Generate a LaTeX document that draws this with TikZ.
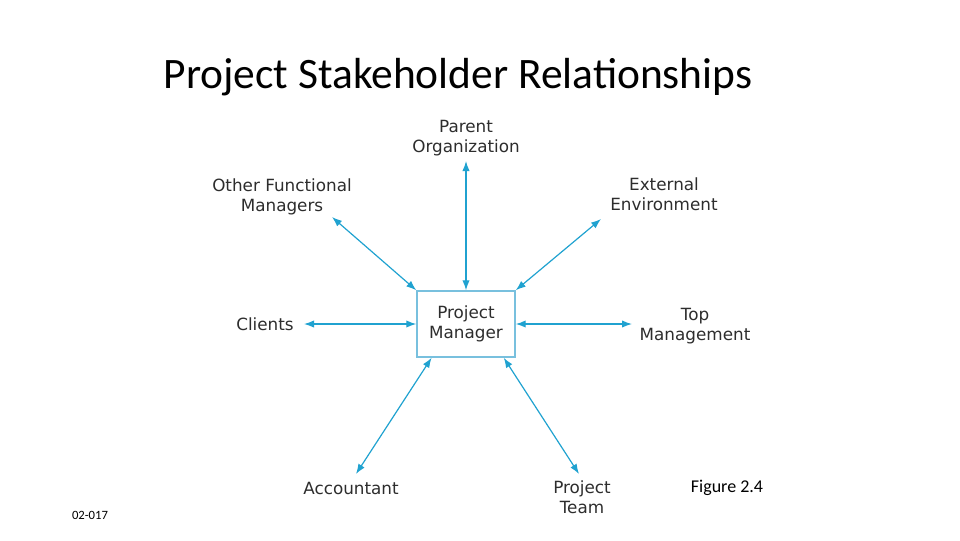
\documentclass[tikz,border=0pt]{standalone}
\usepackage{fontspec}
\setmainfont{DejaVu Sans}
\newfontfamily\slidefont{Carlito}
\usepackage{xcolor}
\usepackage{tikz}
\usetikzlibrary{arrows.meta,positioning}

\definecolor{linkblue}{RGB}{32,162,208}
\definecolor{boxblue}{RGB}{120,192,222}
\definecolor{labelgray}{RGB}{45,45,45}

\tikzset{
  party/.style={align=center,text=labelgray,font=\fontsize{12.6}{15}\selectfont},
  link/.style={{Latex[length=7.5pt,width=5.5pt]}-{Latex[length=7.5pt,width=5.5pt]},linkblue,line width=0.9pt}
}

\begin{document}
\begin{tikzpicture}[x=0.75pt,y=-0.75pt]
  \useasboundingbox (0,0) rectangle (960,540);
  % title
  \node (title) at (458,77) {\slidefont\fontsize{32.6}{38}\selectfont Project Stakeholder Relationships};
  % centre box
  \node[draw=boxblue,line width=1.1pt,minimum width=73.5pt,minimum height=49.5pt,party] (pm) at (466,324) {Project\\Manager};
  % stakeholders
  \node[party] (parent) at (466,138) {Parent\\Organization};
  \node[party] (other) at (282,197) {Other Functional\\Managers};
  \node[party] (extern) at (664,194) {External\\Environment};
  \node[party] (clients) at (265,324) {Clients};
  \node[party] (topmgmt) at (695,326) {Top\\Management};
  \node[party] (acct) at (351,488) {Accountant};
  \node[party] (team) at (582,497) {Project\\Team};
  % arrow ends
  \coordinate (parenttip) at (466,161);
  \coordinate (othertip) at (332,217);
  \coordinate (externtip) at (601,219);
  \coordinate (clientstip) at (304,324);
  \coordinate (toptip) at (632,324);
  \coordinate (accttip) at (356,474);
  \coordinate (teamtip) at (579,474);
  % links
  \draw[link] (pm.north) -- (parenttip);
  \draw[link] (pm.north west) -- (othertip);
  \draw[link] (pm.north east) -- (externtip);
  \draw[link] (pm.west) -- (clientstip);
  \draw[link] (pm.east) -- (toptip);
  \draw[link] ([xshift=11.5pt]pm.south west) -- (accttip);
  \draw[link] ([xshift=-9pt]pm.south east) -- (teamtip);
  % captions
  \node (figno) at (727,488) {\slidefont\fontsize{13.5}{16}\selectfont Figure 2.4};
  \node (slideno) at (90,515) {\slidefont\fontsize{9.5}{11}\selectfont 02-017};
\end{tikzpicture}
\end{document}
